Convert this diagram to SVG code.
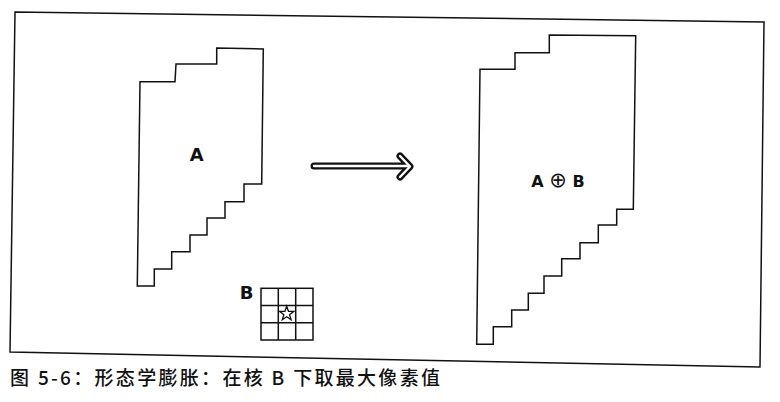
<svg xmlns="http://www.w3.org/2000/svg" width="780" height="402" viewBox="0 0 780 402">
<style>
.ln{fill:none;stroke:#111;stroke-width:1.5;stroke-linejoin:miter}
.lbl{font-family:"DejaVu Sans","Liberation Sans",sans-serif;font-weight:bold;fill:#111}
.cap{font-family:"Noto Sans CJK SC","Noto Sans",sans-serif;fill:#111;font-weight:500}
</style>
<rect width="780" height="402" fill="#fff"/>
<polygon id="frame" class="ln" points="15,12 764,22 760,367 10,352" stroke-width="1.6"/>
<g id="shapeA">
<polygon class="ln" points="140,81.7 175,81.7 176,64 216.7,64 216.7,48 263.3,49 261.7,184 244,184 244,201.7 225,201.7 225,218 207,218 207,235 190,235 190,251.7 171.7,251.7 171.7,269 154.3,269 154.3,286 137.3,286"/>
<text class="lbl" x="196.7" y="160.5" font-size="18" text-anchor="middle">A</text>
</g>
<g id="shapeAB">
<polygon class="ln" points="480,69.3 515,69.3 515,52.7 549.3,52.7 549.3,35 635.7,35.7 633.3,209.3 616.7,209.3 616.7,225 598.3,225 598.3,242.7 580,242.7 580,258.7 561.7,258.7 561.7,276 544,276 544,293.3 528.3,293.3 528.3,310 511.7,310 511.7,326.7 493.3,326.7 493.3,344.3 476.7,344.3"/>
<text class="lbl" x="558" y="187" font-size="16" text-anchor="middle">A <tspan font-size="21" font-weight="normal" font-family="DejaVu Sans, sans-serif">⊕</tspan> B</text>
</g>
<g id="kernelB">
<text class="lbl" x="246.7" y="299" font-size="18" text-anchor="middle">B</text>
<rect class="ln" x="261" y="288.3" width="52" height="51.7"/>
<path class="ln" stroke-width="1.2" d="M278.3,288.3V340M295.7,288.3V340M261,305.5H313M261,322.7H313"/>
<polygon fill="#fff" stroke="#111" stroke-width="1.3" stroke-linejoin="miter" points="286.7,306.2 288.46,311.27 293.83,311.38 289.55,314.63 291.11,319.77 286.7,316.7 282.29,319.77 283.85,314.63 279.57,311.38 284.94,311.27"/>
</g>
<g id="connectors">
<path d="M314,166H409M400,156L410,166.5L400,177" fill="none" stroke="#111" stroke-width="7" stroke-linecap="round" stroke-linejoin="round"/>
<path d="M314,166H409M400,156L410,166.5L400,177" fill="none" stroke="#fff" stroke-width="2.4" stroke-linecap="round" stroke-linejoin="round"/>
</g>
<text class="cap" x="10" y="385" font-size="19" textLength="430" lengthAdjust="spacing">图 5-6：形态学膨胀：在核 B 下取最大像素值</text>
</svg>
